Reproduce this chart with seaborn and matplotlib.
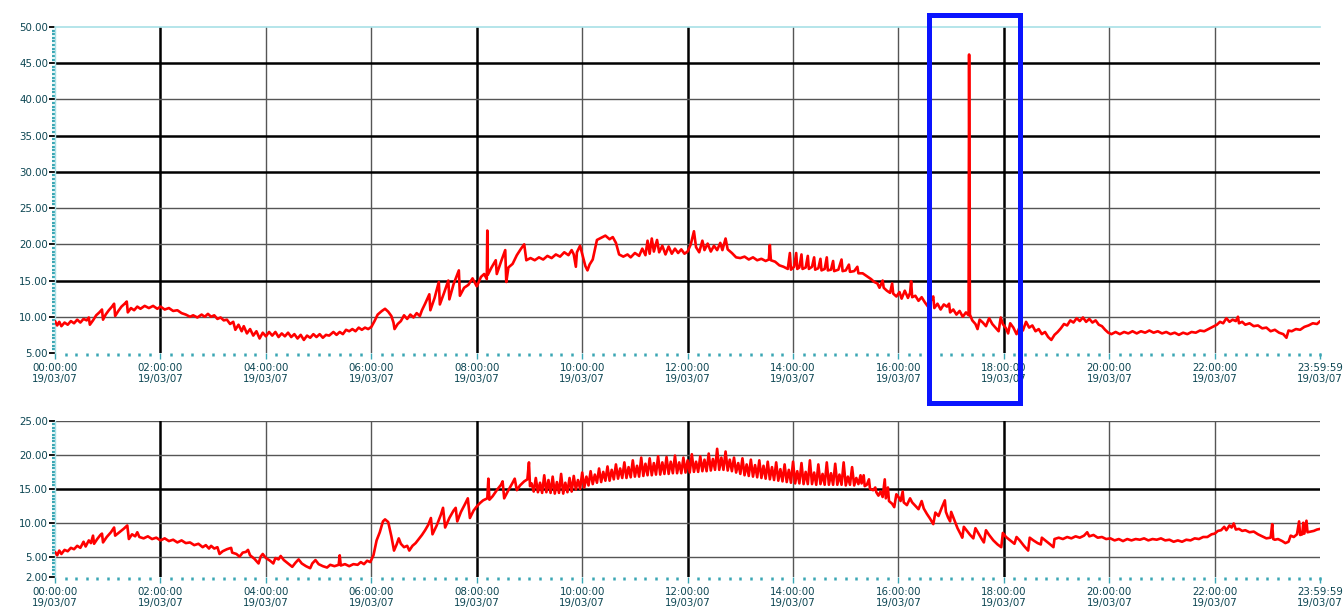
import numpy as np
import pandas as pd
import matplotlib
matplotlib.use("Agg")
import matplotlib.pyplot as plt
import seaborn as sns
from matplotlib.patches import Rectangle

# ---------------- data (hours since 00:00, value) ----------------
TOP_00_06 = [(0.00, 9.4), (0.04, 8.8), (0.08, 9.3), (0.12, 8.7), (0.18, 9.2), (0.24, 8.9), (0.30, 9.4), (0.36, 9.1),
             (0.42, 9.6), (0.48, 9.2), (0.54, 9.7), (0.60, 9.5), (0.64, 9.9), (0.66, 8.9), (0.72, 9.5), (0.78, 10.2),
             (0.84, 10.6), (0.89, 11.0), (0.91, 9.6), (0.96, 10.3), (1.02, 10.9), (1.08, 11.4), (1.12, 11.8), (1.14, 10.1),
             (1.20, 10.8), (1.26, 11.4), (1.32, 11.8), (1.36, 12.1), (1.38, 10.6), (1.44, 11.2), (1.50, 10.9), (1.56, 11.4),
             (1.62, 11.1), (1.70, 11.5), (1.78, 11.2), (1.86, 11.5), (1.94, 11.1), (2.00, 11.4), (2.08, 11.0), (2.16, 11.2),
             (2.24, 10.8), (2.32, 10.9), (2.40, 10.5), (2.48, 10.3), (2.56, 10.0), (2.62, 10.2), (2.70, 9.9), (2.78, 10.3),
             (2.84, 10.0), (2.90, 10.4), (2.96, 10.0), (3.02, 10.2), (3.08, 9.7), (3.14, 9.9), (3.20, 9.5), (3.26, 9.6),
             (3.32, 9.0), (3.38, 9.3), (3.42, 8.2), (3.48, 8.9), (3.54, 8.0), (3.58, 8.7), (3.64, 7.7), (3.70, 8.3),
             (3.76, 7.4), (3.82, 8.0), (3.88, 7.0), (3.94, 7.8), (4.00, 7.3), (4.06, 7.9), (4.12, 7.4), (4.18, 7.9),
             (4.24, 7.2), (4.30, 7.7), (4.36, 7.3), (4.42, 7.8), (4.48, 7.2), (4.54, 7.6), (4.60, 7.0), (4.66, 7.5),
             (4.72, 6.8), (4.78, 7.4), (4.84, 7.1), (4.90, 7.6), (4.96, 7.2), (5.02, 7.6), (5.08, 7.1), (5.14, 7.5),
             (5.20, 7.4), (5.28, 7.9), (5.34, 7.5), (5.40, 7.9), (5.46, 7.6), (5.52, 8.2), (5.58, 8.0), (5.64, 8.3),
             (5.70, 8.0), (5.76, 8.5), (5.82, 8.2), (5.88, 8.5), (5.94, 8.3)]
TOP_06_12 = [(6.00, 8.6), (6.06, 9.4), (6.12, 10.3), (6.20, 10.8), (6.26, 11.1), (6.32, 10.7), (6.38, 10.1), (6.42, 9.2),
             (6.44, 8.3), (6.50, 9.0), (6.56, 9.4), (6.62, 10.2), (6.68, 9.7), (6.74, 10.3), (6.80, 9.9), (6.86, 10.5),
             (6.92, 10.1), (6.96, 10.9), (7.02, 11.8), (7.10, 13.1), (7.12, 10.9), (7.20, 12.6), (7.28, 14.8), (7.30, 11.7),
             (7.38, 13.3), (7.46, 15.0), (7.48, 12.4), (7.56, 14.5), (7.66, 16.4), (7.68, 12.9), (7.76, 14.0), (7.84, 14.4),
             (7.92, 15.3), (8.00, 14.2), (8.08, 15.5), (8.14, 15.9), (8.19, 15.2), (8.20, 21.9), (8.21, 15.8), (8.28, 16.8),
             (8.36, 17.8), (8.38, 15.9), (8.46, 17.6), (8.54, 19.2), (8.56, 14.8), (8.60, 16.8), (8.68, 17.3), (8.76, 18.5),
             (8.84, 19.4), (8.90, 20.0), (8.94, 17.8), (9.02, 18.1), (9.10, 17.8), (9.18, 18.2), (9.26, 17.9), (9.34, 18.4),
             (9.42, 18.1), (9.50, 18.6), (9.58, 18.3), (9.66, 18.9), (9.74, 18.5), (9.80, 19.2), (9.84, 18.6), (9.88, 16.9),
             (9.90, 18.9), (9.96, 19.8), (10.00, 18.7), (10.06, 17.0), (10.10, 16.4), (10.14, 17.2), (10.20, 17.9),
             (10.28, 20.6), (10.36, 20.9), (10.44, 21.2), (10.52, 20.7), (10.58, 21.0), (10.64, 20.2), (10.70, 18.6),
             (10.78, 18.3), (10.86, 18.6), (10.92, 18.2), (11.00, 18.8), (11.08, 18.4), (11.14, 19.4), (11.20, 18.5),
             (11.24, 20.5), (11.28, 18.7), (11.32, 20.8), (11.36, 19.0), (11.42, 20.6), (11.46, 18.9), (11.52, 19.8),
             (11.58, 18.6), (11.64, 19.7), (11.70, 18.7), (11.76, 19.4), (11.82, 18.8), (11.88, 19.3), (11.94, 18.7)]
TOP_12_18 = [(12.00, 19.0), (12.06, 20.0), (12.12, 21.8), (12.16, 19.6), (12.22, 18.9), (12.28, 20.5), (12.32, 19.2),
             (12.38, 20.1), (12.44, 19.0), (12.50, 19.8), (12.56, 19.2), (12.62, 20.2), (12.66, 19.2), (12.72, 20.8),
             (12.76, 19.3), (12.84, 18.8), (12.92, 18.2), (13.00, 18.1), (13.08, 18.3), (13.16, 17.9), (13.24, 18.2),
             (13.32, 17.8), (13.40, 18.0), (13.48, 17.7), (13.54, 17.9), (13.56, 19.9), (13.58, 17.8), (13.66, 17.6),
             (13.74, 17.1), (13.82, 16.9), (13.90, 16.6), (13.94, 18.8), (13.96, 16.5), (14.02, 16.9), (14.06, 18.8),
             (14.08, 16.6), (14.12, 16.8), (14.16, 18.6), (14.18, 16.6), (14.24, 16.8), (14.28, 18.4), (14.30, 16.6),
             (14.36, 16.9), (14.40, 18.2), (14.42, 16.5), (14.48, 16.7), (14.52, 18.0), (14.54, 16.4), (14.60, 16.6),
             (14.64, 18.2), (14.66, 16.4), (14.72, 16.5), (14.76, 17.7), (14.78, 16.3), (14.86, 16.5), (14.92, 17.9),
             (14.94, 16.3), (15.00, 16.4), (15.06, 17.2), (15.08, 16.2), (15.16, 16.3), (15.22, 16.9), (15.24, 16.0),
             (15.32, 16.0), (15.40, 15.6), (15.48, 15.2), (15.54, 14.8), (15.60, 14.6), (15.64, 14.0), (15.70, 15.0),
             (15.72, 14.0), (15.78, 13.6), (15.84, 13.3), (15.88, 14.6), (15.90, 13.2), (15.96, 12.8), (16.02, 13.4),
             (16.06, 12.5), (16.12, 13.6), (16.18, 12.6), (16.22, 13.3), (16.24, 14.9), (16.26, 12.7), (16.32, 12.9),
             (16.38, 12.2), (16.44, 12.7), (16.50, 12.0), (16.56, 11.4), (16.62, 12.3), (16.66, 12.8), (16.68, 11.2),
             (16.74, 11.8), (16.80, 11.0), (16.86, 11.7), (16.92, 11.4), (16.96, 11.8), (16.98, 10.6), (17.04, 11.0),
             (17.10, 10.3), (17.16, 10.8), (17.22, 10.0), (17.28, 10.6), (17.33, 10.2), (17.34, 46.2), (17.355, 10.3),
             (17.40, 9.5), (17.46, 9.0), (17.50, 8.3), (17.54, 9.6), (17.60, 9.2), (17.66, 8.7), (17.72, 9.8),
             (17.78, 9.0), (17.84, 8.5), (17.90, 8.0), (17.94, 9.9)]
TOP_18_24 = [(17.98, 9.0), (18.04, 8.4), (18.08, 7.7), (18.12, 9.1), (18.18, 8.5), (18.24, 7.6), (18.30, 8.6),
             (18.36, 8.1), (18.42, 9.3), (18.48, 8.5), (18.54, 8.8), (18.60, 8.0), (18.66, 8.3), (18.72, 7.6),
             (18.78, 7.9), (18.84, 7.2), (18.90, 6.8), (18.96, 7.5), (19.02, 7.9), (19.08, 8.4), (19.14, 9.0),
             (19.20, 8.8), (19.26, 9.5), (19.32, 9.2), (19.38, 9.8), (19.44, 9.4), (19.50, 9.9), (19.56, 9.3),
             (19.62, 9.7), (19.68, 9.2), (19.74, 9.5), (19.80, 8.9), (19.86, 8.7), (19.92, 8.2), (19.98, 7.8),
             (20.04, 7.6), (20.12, 7.9), (20.20, 7.6), (20.28, 7.9), (20.36, 7.7), (20.44, 8.0), (20.52, 7.7),
             (20.60, 8.0), (20.68, 7.8), (20.76, 8.1), (20.84, 7.8), (20.92, 8.0), (21.00, 7.7), (21.08, 7.9),
             (21.16, 7.6), (21.24, 7.8), (21.32, 7.5), (21.40, 7.8), (21.48, 7.6), (21.56, 7.9), (21.64, 7.8),
             (21.72, 8.1), (21.80, 8.0), (21.88, 8.3), (21.96, 8.6), (22.04, 8.9), (22.10, 9.3), (22.16, 9.1),
             (22.22, 9.8), (22.28, 9.3), (22.34, 9.6), (22.40, 9.4), (22.44, 10.0), (22.46, 9.1), (22.52, 9.3),
             (22.58, 8.9), (22.66, 9.1), (22.74, 8.7), (22.82, 8.8), (22.90, 8.4), (22.98, 8.5), (23.06, 8.0),
             (23.14, 8.2), (23.22, 7.8), (23.30, 7.6), (23.36, 7.1), (23.40, 8.1), (23.46, 8.0), (23.54, 8.3),
             (23.62, 8.2), (23.70, 8.6), (23.78, 8.8), (23.86, 9.1), (23.94, 9.0), (24.00, 9.4)]

BOT_00_06 = [(0.00, 5.7), (0.04, 5.2), (0.08, 5.9), (0.12, 5.4), (0.18, 6.0), (0.24, 5.8), (0.30, 6.3), (0.36, 6.1),
             (0.42, 6.6), (0.48, 6.3), (0.54, 7.2), (0.58, 6.5), (0.64, 7.4), (0.68, 7.0), (0.72, 8.1), (0.74, 6.9),
             (0.80, 7.6), (0.86, 8.2), (0.89, 8.4), (0.91, 7.1), (0.98, 7.9), (1.06, 8.6), (1.12, 9.3), (1.14, 8.1),
             (1.22, 8.6), (1.30, 9.1), (1.37, 9.6), (1.40, 7.6), (1.46, 8.3), (1.52, 8.0), (1.56, 8.6), (1.60, 7.9),
             (1.68, 7.7), (1.76, 8.0), (1.84, 7.6), (1.92, 7.8), (2.00, 7.4), (2.08, 7.7), (2.16, 7.3), (2.24, 7.5),
             (2.32, 7.1), (2.40, 7.4), (2.48, 7.0), (2.56, 7.1), (2.64, 6.7), (2.72, 6.9), (2.80, 6.4), (2.86, 6.7),
             (2.92, 6.2), (2.96, 6.6), (3.02, 6.2), (3.08, 6.4), (3.12, 5.4), (3.18, 5.8), (3.26, 6.1), (3.34, 6.3),
             (3.36, 5.6), (3.44, 5.4), (3.50, 5.0), (3.56, 5.6), (3.62, 5.7), (3.66, 6.0), (3.70, 5.2), (3.78, 4.7),
             (3.86, 4.0), (3.90, 5.0), (3.94, 5.4), (4.00, 4.8), (4.08, 4.4), (4.14, 4.0), (4.18, 4.8), (4.24, 4.6),
             (4.28, 5.1), (4.34, 4.5), (4.42, 4.0), (4.50, 3.5), (4.56, 4.1), (4.62, 4.6), (4.68, 4.0), (4.76, 3.6),
             (4.84, 3.3), (4.88, 4.0), (4.94, 4.5), (5.00, 3.9), (5.08, 3.6), (5.16, 3.4), (5.22, 3.8), (5.30, 3.6),
             (5.38, 3.8), (5.40, 5.2), (5.42, 3.7), (5.50, 3.9), (5.58, 3.6), (5.66, 3.9), (5.74, 3.8), (5.80, 4.2),
             (5.86, 3.9), (5.92, 4.4), (5.98, 4.2)]
BOT_06_09 = [(6.04, 5.2), (6.10, 7.4), (6.16, 8.6), (6.22, 10.2), (6.26, 10.5), (6.32, 10.1), (6.38, 8.0), (6.43, 5.9),
             (6.48, 6.8), (6.52, 7.7), (6.56, 6.9), (6.62, 6.4), (6.68, 6.6), (6.72, 5.9), (6.78, 6.6), (6.84, 7.0),
             (6.90, 7.6), (6.96, 8.2), (7.02, 8.9), (7.08, 9.7), (7.13, 10.7), (7.16, 8.3), (7.24, 9.6), (7.32, 11.2),
             (7.36, 12.2), (7.40, 9.3), (7.48, 10.7), (7.56, 11.8), (7.60, 12.2), (7.63, 10.2), (7.70, 11.6),
             (7.78, 12.8), (7.83, 13.6), (7.87, 10.7), (7.94, 11.8), (8.00, 12.4), (8.06, 12.9), (8.12, 13.3),
             (8.20, 13.6), (8.22, 16.5), (8.24, 13.4), (8.30, 13.9), (8.38, 14.8), (8.46, 15.6), (8.49, 16.1),
             (8.52, 13.6), (8.60, 14.8), (8.68, 15.9), (8.72, 16.5), (8.76, 14.8), (8.82, 15.5), (8.90, 16.1),
             (8.96, 16.4), (8.99, 18.9), (9.01, 15.4)]
# dense logger band, one reading every BAND_STEP hours from BAND_START
BAND_START, BAND_STEP = 9.04, 0.04
BAND_V = [15.8, 14.6, 16.6, 14.5, 15.9, 14.4, 17.0, 14.5, 16.3, 14.4, 16.8, 14.3,
          16.0, 14.4, 17.2, 14.3, 15.9, 14.5, 16.6, 14.6, 16.9, 14.9, 16.3, 15.0,
          17.4, 15.2, 16.8, 15.5, 17.6, 15.7, 17.1, 15.9, 18.0, 16.0, 17.5, 16.2,
          18.3, 16.2, 17.8, 16.4, 18.6, 16.5, 18.0, 16.6, 18.9, 16.6, 18.2, 16.7,
          19.2, 16.8, 18.4, 16.8, 19.6, 16.9, 18.7, 17.0, 19.5, 17.0, 18.8, 17.1,
          19.8, 17.1, 18.9, 17.2, 19.7, 17.2, 19.0, 17.3, 19.9, 17.3, 18.9, 17.3,
          19.6, 17.4, 19.2, 17.4, 20.1, 17.5, 19.0, 17.5, 19.8, 17.6, 19.3, 17.6,
          20.2, 17.7, 19.4, 17.8, 20.9, 17.8, 19.6, 17.8, 20.5, 17.7, 19.3, 17.6,
          19.6, 17.4, 18.8, 17.2, 19.5, 17.0, 18.6, 16.9, 19.3, 16.8, 18.5, 16.7,
          19.2, 16.6, 18.4, 16.5, 19.0, 16.4, 18.2, 16.3, 18.9, 16.2, 17.9, 16.1,
          18.6, 16.0, 17.8, 15.9, 19.0, 15.8, 17.6, 15.8, 18.8, 15.7, 17.5, 15.7,
          19.2, 15.7, 17.4, 15.6, 18.6, 15.7, 17.2, 15.6, 18.9, 15.6, 17.3, 15.6,
          18.7, 15.6, 17.1, 15.6, 18.9, 15.5, 16.8, 15.6, 18.2, 15.5, 16.6, 15.7,
          17.0]
BOT_15_19 = [(15.30, 15.8), (15.34, 17.0), (15.36, 15.4), (15.40, 15.6), (15.44, 16.4), (15.46, 15.0), (15.52, 14.8),
             (15.56, 15.2), (15.58, 14.5), (15.62, 14.0), (15.66, 14.6), (15.70, 13.8), (15.74, 16.4), (15.76, 13.6),
             (15.80, 15.2), (15.82, 13.2), (15.88, 12.8), (15.92, 12.3), (15.96, 14.2), (16.00, 13.8), (16.04, 13.2),
             (16.08, 14.6), (16.10, 13.0), (16.16, 12.6), (16.22, 13.6), (16.26, 13.0), (16.32, 12.5), (16.38, 12.0),
             (16.44, 13.2), (16.48, 12.1), (16.54, 11.3), (16.60, 10.6), (16.66, 9.8), (16.70, 11.5), (16.76, 11.0),
             (16.82, 12.2), (16.88, 13.3), (16.90, 11.6), (16.94, 10.8), (16.98, 10.2), (17.00, 11.6), (17.06, 10.4),
             (17.12, 9.2), (17.18, 8.3), (17.21, 7.8), (17.24, 9.4), (17.30, 8.8), (17.36, 8.2), (17.42, 7.7),
             (17.46, 9.2), (17.52, 8.4), (17.58, 7.6), (17.62, 7.1), (17.66, 8.9), (17.72, 8.2), (17.80, 7.4),
             (17.88, 6.8), (17.95, 6.4), (17.98, 8.5), (18.04, 7.9), (18.12, 7.4), (18.20, 6.9), (18.24, 7.9),
             (18.30, 7.4), (18.38, 6.6), (18.46, 5.9), (18.49, 7.8), (18.56, 7.4), (18.64, 7.0), (18.70, 6.8),
             (18.72, 7.8), (18.80, 7.3), (18.88, 6.8), (18.94, 6.4), (18.96, 7.6)]
BOT_19_24 = [(19.04, 7.8), (19.12, 7.6), (19.20, 7.9), (19.28, 7.7), (19.36, 8.0), (19.44, 7.8), (19.52, 8.1),
             (19.58, 8.6), (19.62, 8.0), (19.70, 8.2), (19.78, 7.8), (19.86, 7.9), (19.94, 7.6), (20.02, 7.7),
             (20.10, 7.4), (20.18, 7.6), (20.26, 7.3), (20.34, 7.6), (20.42, 7.4), (20.50, 7.6), (20.58, 7.5),
             (20.66, 7.7), (20.74, 7.4), (20.82, 7.6), (20.90, 7.5), (20.98, 7.7), (21.06, 7.4), (21.14, 7.5),
             (21.22, 7.2), (21.30, 7.4), (21.38, 7.2), (21.46, 7.5), (21.54, 7.4), (21.62, 7.7), (21.70, 7.6),
             (21.78, 7.9), (21.86, 7.9), (21.94, 8.3), (22.00, 8.4), (22.06, 8.8), (22.12, 8.9), (22.18, 9.4),
             (22.22, 8.9), (22.28, 9.6), (22.32, 9.3), (22.36, 9.9), (22.40, 9.0), (22.46, 9.1), (22.52, 8.8),
             (22.58, 8.9), (22.66, 8.6), (22.74, 8.7), (22.82, 8.3), (22.90, 8.0), (22.98, 7.7), (23.06, 7.8),
             (23.09, 9.8), (23.11, 7.6), (23.14, 7.5), (23.20, 7.6), (23.28, 7.3), (23.34, 7.0), (23.40, 7.2),
             (23.44, 8.1), (23.50, 7.9), (23.56, 8.3), (23.60, 10.2), (23.62, 8.2), (23.66, 8.3), (23.68, 10.0),
             (23.70, 8.4), (23.74, 10.3), (23.76, 8.6), (23.82, 8.7), (23.88, 8.8), (23.94, 9.0), (24.00, 9.1)]

XTICKS = [0, 2, 4, 6, 8, 10, 12, 14, 16, 18, 20, 22, 23.9997]
XTICK_LABELS = ["00:00:00\n19/03/07", "02:00:00\n19/03/07", "04:00:00\n19/03/07", "06:00:00\n19/03/07",
                "08:00:00\n19/03/07", "10:00:00\n19/03/07", "12:00:00\n19/03/07", "14:00:00\n19/03/07",
                "16:00:00\n19/03/07", "18:00:00\n19/03/07", "20:00:00\n19/03/07", "22:00:00\n19/03/07",
                "23:59:59\n19/03/07"]
TOP_YTICKS = [5, 10, 15, 20, 25, 30, 35, 40, 45, 50]
BOT_YTICKS = [2, 5, 10, 15, 20, 25]
EMPH_X = [2, 8, 12, 18]
TOP_EMPH_Y = [15, 30, 35, 45]
BOT_EMPH_Y = [15]
HILITE_T = (16.58, 18.31)   # highlighted period (hours)
HILITE_V = (-1.9, 51.7)

# ---------------- frames ----------------
top_df = pd.DataFrame(TOP_00_06 + TOP_06_12 + TOP_12_18 + TOP_18_24, columns=["t", "v"])
band = [(BAND_START + i * BAND_STEP, v) for i, v in enumerate(BAND_V)]
bot_df = pd.DataFrame(BOT_00_06 + BOT_06_09 + band + BOT_15_19 + BOT_19_24, columns=["t", "v"])
top_df = top_df.sort_values("t")
bot_df = bot_df.sort_values("t")

sns.set_style("white")
plt.rcParams["font.family"] = ["DejaVu Sans"]

LABEL_C = "#0c4653"
TEAL = "#3aa6b4"

fig = plt.figure(figsize=(13.43, 6.09), dpi=100)
ax1 = fig.add_axes([0.0410, 0.4204, 0.9420, 0.5353])
ax2 = fig.add_axes([0.0410, 0.0525, 0.9420, 0.2562])


def style(ax, yticks, ylim, emph_y, top_cyan):
    ax.set_xlim(0, 24)
    ax.set_ylim(*ylim)
    ax.set_xticks(XTICKS)
    ax.set_xticklabels(XTICK_LABELS)
    ax.set_yticks(yticks)
    ax.set_yticklabels([f"{y:.2f}" for y in yticks])
    ax.set_xticks(np.arange(0, 24.01, 0.2), minor=True)
    ax.set_yticks(np.arange(ylim[0], ylim[1] + 0.01, 0.5), minor=True)
    ax.tick_params(axis="both", which="major", labelsize=7.4, labelcolor=LABEL_C)
    ax.tick_params(axis="y", which="major", length=4, width=1.3, color="black", pad=1, direction="out", left=True)
    ax.tick_params(axis="x", which="major", length=4, width=1.0, color=TEAL, pad=3, direction="out", bottom=True)
    ax.tick_params(axis="y", which="minor", length=2, width=1.6, color=TEAL, left=True)
    ax.tick_params(axis="x", which="minor", length=2, width=1.8, color=TEAL, bottom=True)
    for lab in ax.get_xticklabels():
        lab.set_linespacing(1.15)
    for s in ["right", "bottom"]:
        ax.spines[s].set_visible(False)
    ax.spines["left"].set_color("#a8e0e6")
    ax.spines["left"].set_linewidth(1.0)
    if top_cyan:
        ax.spines["top"].set_color("#a8e0e6")
        ax.spines["top"].set_linewidth(1.2)
    else:
        ax.spines["top"].set_visible(False)
        ax.axhline(ylim[1], color="#555555", lw=1.0, zorder=1)
    for x in XTICKS[1:-1]:
        emph = x in EMPH_X
        ax.axvline(x, color="black" if emph else "#555555", lw=1.8 if emph else 1.0, zorder=1)
    for y in yticks[1:-1]:
        emph = y in emph_y
        ax.axhline(y, color="black" if emph else "#555555", lw=1.8 if emph else 1.0, zorder=1)


sns.lineplot(data=top_df, x="t", y="v", ax=ax1, color="#ff0000", lw=1.9, estimator=None, zorder=3)
sns.lineplot(data=bot_df, x="t", y="v", ax=ax2, color="#ff0000", lw=1.9, estimator=None, zorder=3)

style(ax1, TOP_YTICKS, (5, 50), TOP_EMPH_Y, True)
style(ax2, BOT_YTICKS, (2, 25), BOT_EMPH_Y, False)
for ax in (ax1, ax2):
    ax.set_xlabel("")
    ax.set_ylabel("")

rect = Rectangle((HILITE_T[0], HILITE_V[0]), HILITE_T[1] - HILITE_T[0], HILITE_V[1] - HILITE_V[0],
                 fill=False, edgecolor="#0a14ff", lw=3.6, clip_on=False, zorder=5, transform=ax1.transData)
ax1.add_patch(rect)

fig.savefig("out.png", dpi=100)
